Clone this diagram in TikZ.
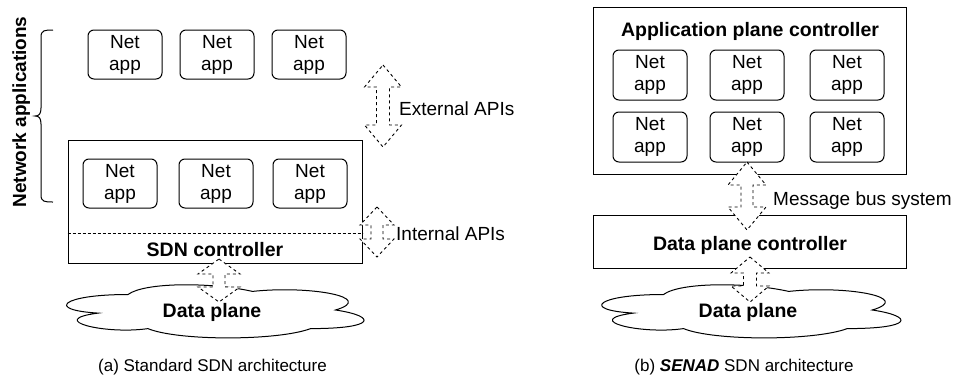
\documentclass[tikz,border=0pt]{standalone}
\usepackage{fontspec}
\setmainfont{Liberation Sans}
\usetikzlibrary{calc}
\tikzset{
  netapp/.style={draw, line width=1pt, rounded corners=6pt, minimum width=74pt, minimum height=49pt, inner sep=0pt, align=center, font=\fontsize{19}{22}\selectfont},
  ctrlbox/.style={draw, line width=1pt, inner sep=0pt},
  boldlbl/.style={font=\fontsize{19.5}{22}\selectfont\bfseries, inner sep=0pt},
  lbl/.style={font=\fontsize{19}{22}\selectfont, inner sep=0pt},
  captionlbl/.style={font=\fontsize{17}{20}\selectfont, inner sep=0pt},
  apiarrow/.style={draw, fill=white, dash pattern=on 3pt off 3pt, line width=0.9pt},
  cloudline/.style={draw, fill=white, line width=1pt}
}
\newcommand\dblarrow[5]{%
  \draw[apiarrow] (#1) -- ($(#1)+(#3,#5)$) -- ($(#1)+(#4,#5)$) -- ($(#2)+(#4,-#5)$) -- ($(#2)+(#3,-#5)$) -- (#2) -- ($(#2)+(-#3,-#5)$) -- ($(#2)+(-#4,-#5)$) -- ($(#1)+(-#4,#5)$) -- ($(#1)+(-#3,#5)$) -- cycle;}
\newcommand\cloudshape[4]{%
  \begin{scope}[shift={(#1,#2)}, x=#3pt, y=-#4pt]
  \draw[cloudline] (0.25,0.25) .. controls (0.05,0.25) and (0,0.5) .. (0.16,0.55) .. controls (0,0.66) and (0.18,0.9) .. (0.31,0.8) .. controls (0.4,1) and (0.7,1) .. (0.8,0.8) .. controls (1,0.8) and (1,0.6) .. (0.875,0.5) .. controls (1,0.3) and (0.8,0.1) .. (0.625,0.2) .. controls (0.5,0.05) and (0.3,0.05) .. (0.25,0.25) -- cycle;
  \end{scope}}
\begin{document}
\begin{tikzpicture}[x=1pt, y=-1pt]
\useasboundingbox (0,0) rectangle (956,378);

% ---------- (a) Standard SDN architecture ----------
% brace and label
\draw[line width=1pt] (53,30) .. controls (45,30) and (41,30) .. (41,37) -- (41,108) .. controls (41,114) and (39,116) .. (35,116) .. controls (39,116) and (41,118) .. (41,124) -- (41,195) .. controls (41,202) and (45,202) .. (53,202);
\node[boldlbl, font=\fontsize{19}{22}\selectfont\bfseries, rotate=90, anchor=base] (netapps) at (26,112) {Network applications};

% top net apps
\node[netapp] (a1) at (125,54.5) {Net\\app};
\node[netapp] (a2) at (217,54.5) {Net\\app};
\node[netapp] (a3) at (309,54.5) {Net\\app};

% SDN controller box
\node[ctrlbox, minimum width=294pt, minimum height=123pt] (sdn) at (215,201.5) {};
\node[netapp] (b1) at (120,183.5) {Net\\app};
\node[netapp] (b2) at (216,183.5) {Net\\app};
\node[netapp] (b3) at (310,183.5) {Net\\app};
\coordinate (sdnL) at (sdn.west |- 0,233);
\coordinate (sdnR) at (sdn.east |- 0,233);
\draw[line width=0.8pt, dash pattern=on 3pt off 2pt] (sdnL) -- (sdnR);
\node[boldlbl, anchor=base] (sdnlbl) at (215,256) {SDN controller};

% data plane cloud
\cloudshape{45}{279}{332}{62}
\node[boldlbl, anchor=base] (dpa) at (212,317) {Data plane};

% arrows
\coordinate (extT) at (383,65);
\coordinate (extB) at (383,147);
\dblarrow{extT}{extB}{18.5}{6.5}{22}
\node[lbl, anchor=base west] (extlbl) at (399,115) {External APIs};

\coordinate (intT) at (377,207);
\coordinate (intB) at (377,257);
\dblarrow{intT}{intB}{17}{6}{18}
\node[lbl, anchor=base west] (intlbl) at (396,240) {Internal APIs};

\coordinate (sdT) at (219,259);
\coordinate (sdB) at (219,302);
\dblarrow{sdT}{sdB}{21}{6}{15}

\node[captionlbl, anchor=base] (capa) at (212.5,371) {(a) Standard SDN architecture};

% ---------- (b) SENAD SDN architecture ----------
\node[ctrlbox, minimum width=313pt, minimum height=167pt] (apc) at (749.5,90.5) {};
\node[boldlbl, anchor=base] (apclbl) at (750,36) {Application plane controller};
\node[netapp, minimum height=50pt] (c1) at (650,75) {Net\\app};
\node[netapp, minimum height=50pt] (c2) at (747,75) {Net\\app};
\node[netapp, minimum height=50pt] (c3) at (847,75) {Net\\app};
\node[netapp, minimum height=50pt] (c4) at (650,137) {Net\\app};
\node[netapp, minimum height=50pt] (c5) at (747,137) {Net\\app};
\node[netapp, minimum height=50pt] (c6) at (847,137) {Net\\app};

\node[ctrlbox, minimum width=313pt, minimum height=53pt] (dpc) at (749.5,241.5) {};
\node[boldlbl, anchor=base] (dpclbl) at (750,250) {Data plane controller};

\cloudshape{580}{279}{334}{62}
\node[boldlbl, anchor=base] (dpb) at (748,317) {Data plane};

\coordinate (mbT) at (747,162);
\coordinate (mbB) at (747,230);
\dblarrow{mbT}{mbB}{19}{6}{23}
\node[lbl, anchor=base west] (mblbl) at (773,205) {Message bus system};

\coordinate (ddT) at (750,257);
\coordinate (ddB) at (750,302);
\dblarrow{ddT}{ddB}{19}{6.5}{16}

\node[captionlbl, anchor=base] (capb) at (744,371) {(b) \textbf{\textit{SENAD}} SDN architecture};
\end{tikzpicture}
\end{document}
